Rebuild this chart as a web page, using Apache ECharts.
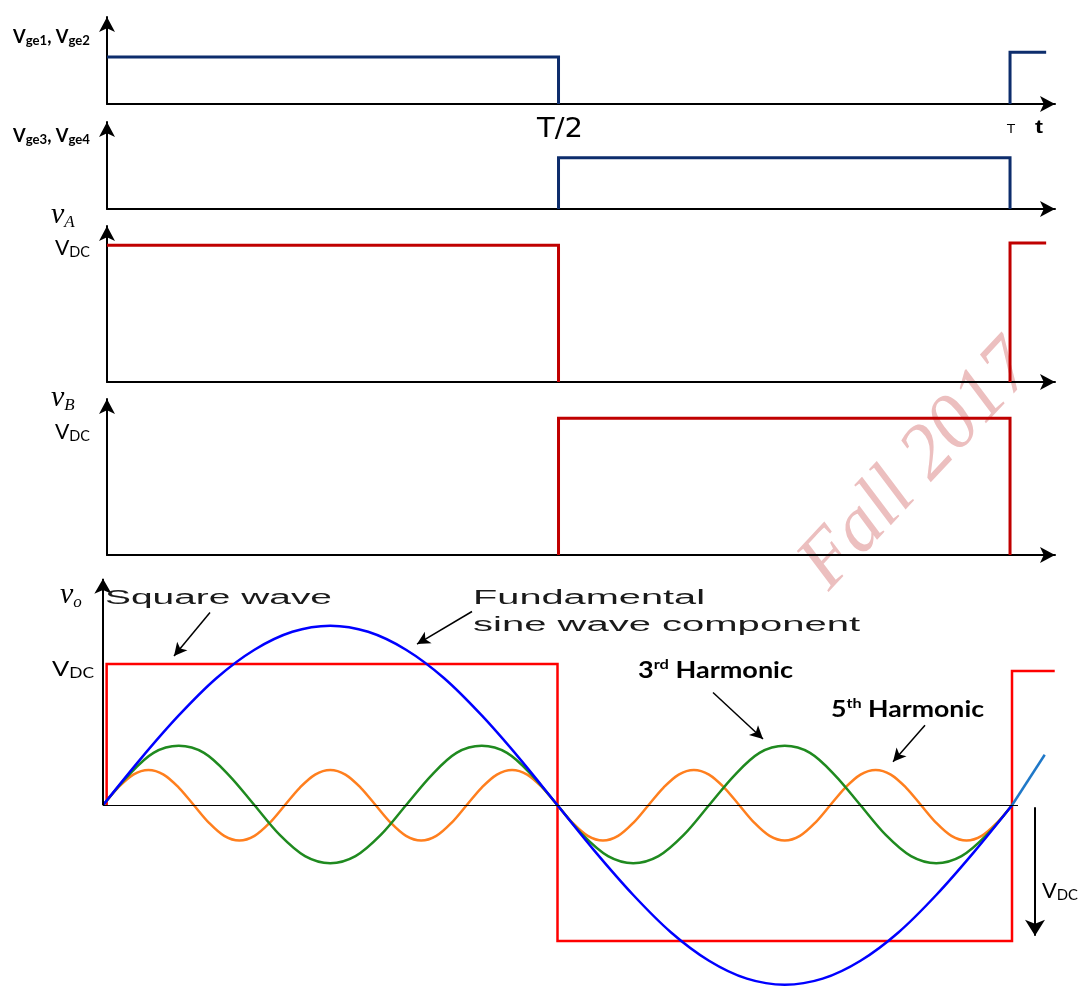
<!DOCTYPE html>
<html>
<head>
<meta charset="utf-8">
<script src="https://cdn.jsdelivr.net/npm/echarts@6/dist/echarts.min.js"></script>
<style>
  html, body { margin: 0; padding: 0; background: #fff; }
  #chart { width: 1080px; height: 989px; }
</style>
</head>
<body>
<div id="chart"></div>
<script>
// time in fractions of the period T, levels in units of V_DC (gate signals: high = 1)
const vge12 = [[0, 1], [0.5, 1], [0.5, 0], [0.75, '-'], [1, 0], [1, 1.1], [1.04, 1.1]];
const vge34 = [[0.5, 0], [0.5, 1.09], [1, 1.09], [1, 0]];
const vA = [[0, 1], [0.5, 1], [0.5, 0], [0.75, '-'], [1, 0], [1, 1.015], [1.04, 1.015]];
const vB = [[0.5, 0], [0.5, 1], [1, 1], [1, 0]];
const vSquare = [[0.004, 0], [0.004, 1], [0.5, 1], [0.5, -0.96], [1, -0.96], [1, 0.95], [1.047, 0.95]];

// samples over one period (evenly spaced in time)
const fundamental = [0, 0.33, 0.635, 0.9, 1.1, 1.227, 1.27, 1.227, 1.1, 0.9, 0.635, 0.33,
  0, -0.33, -0.635, -0.9, -1.1, -1.227, -1.27, -1.227, -1.1, -0.9, -0.635, -0.33, 0];
const fundamentalNext = [[1, 0], [1.036, 0.357]];
const harmonic3 = [
  0, 0.21, 0.37, 0.42, 0.37, 0.21, 0, -0.21, -0.36, -0.41, -0.36, -0.21,
  0, 0.21, 0.37, 0.42, 0.37, 0.21, 0, -0.21, -0.36, -0.41, -0.36, -0.21,
  0, 0.21, 0.37, 0.42, 0.37, 0.21, 0, -0.21, -0.36, -0.41, -0.36, -0.21,
  0];
const harmonic5 = [
  0, 0.125, 0.217, 0.25, 0.217, 0.125, 0, -0.125, -0.217, -0.25, -0.217, -0.125,
  0, 0.125, 0.217, 0.25, 0.217, 0.125, 0, -0.125, -0.217, -0.25, -0.217, -0.125,
  0, 0.125, 0.217, 0.25, 0.217, 0.125, 0, -0.125, -0.217, -0.25, -0.217, -0.125,
  0, 0.125, 0.217, 0.25, 0.217, 0.125, 0, -0.125, -0.217, -0.25, -0.217, -0.125,
  0, 0.125, 0.217, 0.25, 0.217, 0.125, 0, -0.125, -0.217, -0.25, -0.217, -0.125,
  0];

function sampled(values) {
  return values.map(function (v, i) { return [i / (values.length - 1), v]; });
}

let chart = echarts.init(document.getElementById('chart'), null, { renderer: 'canvas' });

const grids = [
  { left: 107, top: 17, width: 948, height: 87 },
  { left: 107, top: 122, width: 948, height: 87 },
  { left: 107, top: 226, width: 948, height: 156 },
  { left: 107, top: 399, width: 948, height: 156 },
  { left: 103, top: 572, width: 959, height: 422 }
];
const xMax = [1.0498, 1.0498, 1.0498, 1.0498, 1.055];
const yRange = [[0, 1.85], [0, 1.85], [0, 1.14], [0, 1.14], [-1.3, 1.65]];

function axisLine(show) {
  return {
    show: show,
    onZero: false,
    lineStyle: { color: '#000', width: 2 },
    symbol: ['none', 'arrow'],
    symbolSize: [12, 15]
  };
}

let xAxes = grids.map(function (g, i) {
  return {
    type: 'value', gridIndex: i, min: 0, max: xMax[i],
    axisLine: axisLine(i < 4), axisTick: { show: false },
    axisLabel: { show: false }, splitLine: { show: false }
  };
});
let yAxes = grids.map(function (g, i) {
  return {
    type: 'value', gridIndex: i, min: yRange[i][0], max: yRange[i][1],
    axisLine: axisLine(i < 4), axisTick: { show: false },
    axisLabel: { show: false }, splitLine: { show: false }
  };
});

function wave(idx, data, color, width, smooth) {
  return {
    type: 'line', xAxisIndex: idx, yAxisIndex: idx,
    data: data, symbol: 'none', smooth: smooth || false, clip: false, silent: true,
    lineStyle: { color: color, width: width, join: 'miter' }
  };
}

// px -> data helper for the last panel (annotation arrows only)
function p5(px, py) { return [(px - 103) / 909, (808 - py) / 143]; }
function arrow(from, to, w, size) {
  return [
    { coord: from, symbol: 'none', lineStyle: { width: w } },
    { coord: to, symbol: 'arrow', symbolSize: size }
  ];
}

let squareSeries = wave(4, vSquare, '#ff0000', 2.5);
squareSeries.markLine = {
  silent: true,
  animation: false,
  label: { show: false },
  lineStyle: { type: 'solid', color: '#000', width: 1 },
  data: [
    [{ coord: [0, 0], symbol: 'none' }, { coord: [1.0066, 0], symbol: 'none' }],
    arrow([0, 0], p5(103, 579), 2, [13, 15]),
    arrow(p5(1035, 810), p5(1035, 940), 2, [15, 16]),
    arrow(p5(210, 613), p5(174, 657), 1.5, [10, 13]),
    arrow(p5(472, 612), p5(417, 645), 1.5, [10, 13]),
    arrow(p5(713, 694), p5(763, 741), 1.5, [10, 13]),
    arrow(p5(925, 727), p5(893, 764), 1.5, [10, 13])
  ]
};

// text helpers
const measure = document.createElement('canvas').getContext('2d');
function textWidth(str, font) {
  measure.font = font;
  return measure.measureText(str).width;
}
function label(x, baseline, parts, fill, targetWidth) {
  let fonts = parts.map(function (p) {
    return (p.italic ? 'italic ' : '') + (p.bold ? 'bold ' : '') + p.size + 'px ' + p.family;
  });
  let widths = parts.map(function (p, i) { return textWidth(p.text, fonts[i]); });
  let total = widths.reduce(function (a, b) { return a + b; }, 0);
  let s = targetWidth ? targetWidth / total : 1;
  let els = [];
  let off = 0;
  parts.forEach(function (p, i) {
    els.push({
      type: 'text', silent: true, z: 10,
      x: x + off * s,
      y: baseline + (p.dy || 0) - 0.32 * p.size,
      scaleX: s,
      style: {
        text: p.text, font: fonts[i], fill: p.fill || fill,
        align: 'left', verticalAlign: 'middle'
      }
    });
    off += widths[i];
  });
  return els;
}

const LATO = 'Lato';
const MATH = '"Liberation Serif"';
const ARIAL = '"Liberation Sans"';

function vgeLabel(a, b, y) {
  return label(13, y, [
    { text: 'V', size: 18, bold: true, family: LATO },
    { text: 'ge' + a, size: 13, bold: true, family: LATO, dy: 2 },
    { text: ', V', size: 18, bold: true, family: LATO },
    { text: 'ge' + b, size: 13, bold: true, family: LATO, dy: 2 }
  ], '#000', 77);
}
function vdc(x, y, w) {
  return label(x, y, [
    { text: 'V', size: 22, family: LATO },
    { text: 'DC', size: 15, family: LATO, dy: 2 }
  ], '#000', w);
}
function mathV(x, y, sub) {
  return label(x, y, [
    { text: 'v', size: 30, italic: true, family: MATH },
    { text: sub, size: 17, italic: true, family: MATH, dy: 3 }
  ], '#000');
}
function harmonic(x, y, n, sup, w) {
  return label(x, y, [
    { text: n, size: 23, bold: true, family: LATO },
    { text: sup, size: 14, bold: true, family: LATO, dy: -9 },
    { text: ' Harmonic', size: 23, bold: true, family: LATO }
  ], '#000', w);
}

let texts = [].concat(
  vgeLabel(1, 2, 43),
  vgeLabel(3, 4, 142),
  mathV(51, 225, 'A'),
  vdc(55, 255, 35),
  mathV(51, 408, 'B'),
  vdc(55, 439, 35),
  mathV(60, 605, 'o'),
  vdc(52, 676, 42),
  vdc(1042, 898, 36),
  label(537, 139, [{ text: 'T/2', size: 26, family: '"DejaVu Sans"' }], '#000', 46),
  label(1007, 134, [{ text: 'T', size: 12, family: '"DejaVu Sans"' }], '#000', 8),
  label(1035, 134, [{ text: 't', size: 18, bold: true, family: ARIAL }], '#000', 8),
  label(105, 605, [{ text: 'Square wave', size: 20, family: ARIAL }], '#1a1a1a', 227),
  label(473, 605, [{ text: 'Fundamental', size: 20, family: ARIAL }], '#1a1a1a', 232),
  label(473, 632, [{ text: 'sine wave component', size: 20, family: ARIAL }], '#1a1a1a', 387),
  harmonic(638, 678, '3', 'rd', 155),
  harmonic(831, 717, '5', 'th', 153)
);

// watermark
texts.push({
  type: 'text', silent: true, z: 0,
  x: 918, y: 466, rotation: 47 * Math.PI / 180,
  style: {
    text: 'Fall 2017', font: 'italic 78px "Liberation Serif"',
    fill: '#ecbfbf', align: 'center', verticalAlign: 'middle'
  }
});

let option = {
  animation: false,
  grid: grids,
  xAxis: xAxes,
  yAxis: yAxes,
  graphic: { elements: texts },
  series: [
    wave(0, vge12, '#0d2d6c', 3),
    wave(1, vge34, '#0d2d6c', 3),
    wave(2, vA, '#c00000', 3),
    wave(3, vB, '#c00000', 3),
    squareSeries,
    wave(4, sampled(harmonic5), '#ff7f1e', 2.5, 0.33),
    wave(4, sampled(harmonic3), '#1f8a1f', 2.5, 0.33),
    wave(4, sampled(fundamental), '#0000ff', 2.5, 0.33),
    wave(4, fundamentalNext, '#1f78c8', 2.5)
  ]
};
chart.setOption(option);
</script>
</body>
</html>
